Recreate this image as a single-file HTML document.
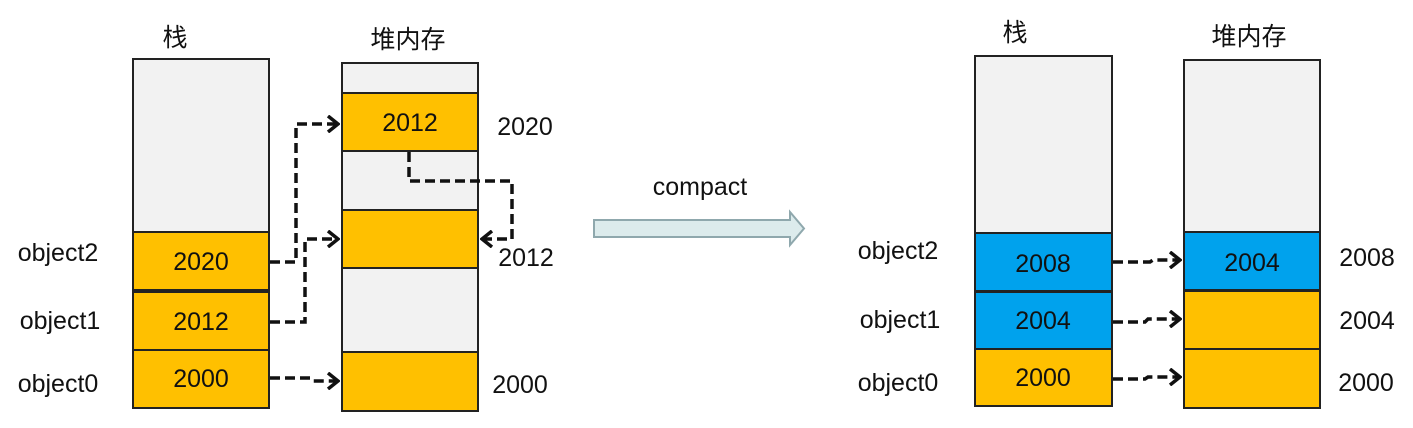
<!DOCTYPE html>
<html><head><meta charset="utf-8"><style>
html,body{margin:0;padding:0;background:#fff;}
svg{display:block;}
text{font-family:"Liberation Sans","Noto Sans CJK SC",sans-serif;font-size:25px;fill:#111;}
</style></head><body>
<svg width="1413" height="428" viewBox="0 0 1413 428" xmlns="http://www.w3.org/2000/svg">
<defs>
<marker id="ah" markerWidth="14" markerHeight="18" refX="12" refY="9" orient="auto" markerUnits="userSpaceOnUse">
<path d="M2,1 L12,9 L2,17" fill="none" stroke="#111" stroke-width="3.5"/>
</marker>
</defs>
<g stroke="#222" stroke-width="2">
<rect x="133" y="59" width="136" height="173" fill="#f2f2f2"/>
<rect x="133" y="232" width="136" height="58" fill="#ffc000"/>
<rect x="133" y="292" width="136" height="58" fill="#ffc000"/>
<rect x="133" y="350" width="136" height="58" fill="#ffc000"/>
<rect x="342" y="63" width="136" height="30" fill="#f2f2f2"/>
<rect x="342" y="93" width="136" height="58" fill="#ffc000"/>
<rect x="342" y="151" width="136" height="59" fill="#f2f2f2"/>
<rect x="342" y="210" width="136" height="58" fill="#ffc000"/>
<rect x="342" y="268" width="136" height="84" fill="#f2f2f2"/>
<rect x="342" y="352" width="136" height="59" fill="#ffc000"/>
<rect x="975" y="56" width="137" height="177" fill="#f2f2f2"/>
<rect x="975" y="233" width="137" height="58" fill="#00a2ed"/>
<rect x="975" y="292" width="137" height="57" fill="#00a2ed"/>
<rect x="975" y="349" width="137" height="57" fill="#ffc000"/>
<rect x="1184" y="60" width="136" height="172" fill="#f2f2f2"/>
<rect x="1184" y="232" width="136" height="58" fill="#00a2ed"/>
<rect x="1184" y="291" width="136" height="58" fill="#ffc000"/>
<rect x="1184" y="349" width="136" height="59" fill="#ffc000"/>
</g>
<g fill="none" stroke="#111" stroke-width="3.5" stroke-dasharray="10,5">
<path d="M270,262 H296 V124 H338" marker-end="url(#ah)"/>
<path d="M270,322 H305 V239 H338" marker-end="url(#ah)"/>
<path d="M270,378 H310 L313,381 H338" marker-end="url(#ah)"/>
<path d="M409,152 V181 H512 V239 H482" marker-end="url(#ah)"/>
<path d="M1113,262 H1150 L1153,260 H1180" marker-end="url(#ah)"/>
<path d="M1113,322 H1145 L1148,319 H1180" marker-end="url(#ah)"/>
<path d="M1113,379 H1145 L1148,377 H1180" marker-end="url(#ah)"/>
</g>
<path d="M594,220 H790 V212 L804,228.5 L790,245 V237 H594 Z" fill="#dcebec" stroke="#8fa8ad" stroke-width="2"/>
<text x="700" y="195" text-anchor="middle">compact</text>
<g text-anchor="middle">
<text x="175" y="46">栈</text>
<text x="408" y="48">堆内存</text>
<text x="1015" y="41">栈</text>
<text x="1249" y="45">堆内存</text>
<text x="201" y="270">2020</text>
<text x="201" y="330">2012</text>
<text x="201" y="387">2000</text>
<text x="410" y="131">2012</text>
<text x="1043" y="272">2008</text>
<text x="1043" y="329">2004</text>
<text x="1043" y="386">2000</text>
<text x="1252" y="271">2004</text>
<text x="58" y="261">object2</text>
<text x="60" y="329">object1</text>
<text x="58" y="392">object0</text>
<text x="898" y="259">object2</text>
<text x="900" y="328">object1</text>
<text x="898" y="391">object0</text>
<text x="525" y="135">2020</text>
<text x="526" y="266">2012</text>
<text x="520" y="393">2000</text>
<text x="1367" y="266">2008</text>
<text x="1367" y="329">2004</text>
<text x="1366" y="391">2000</text>
</g>
</svg>
</body></html>
